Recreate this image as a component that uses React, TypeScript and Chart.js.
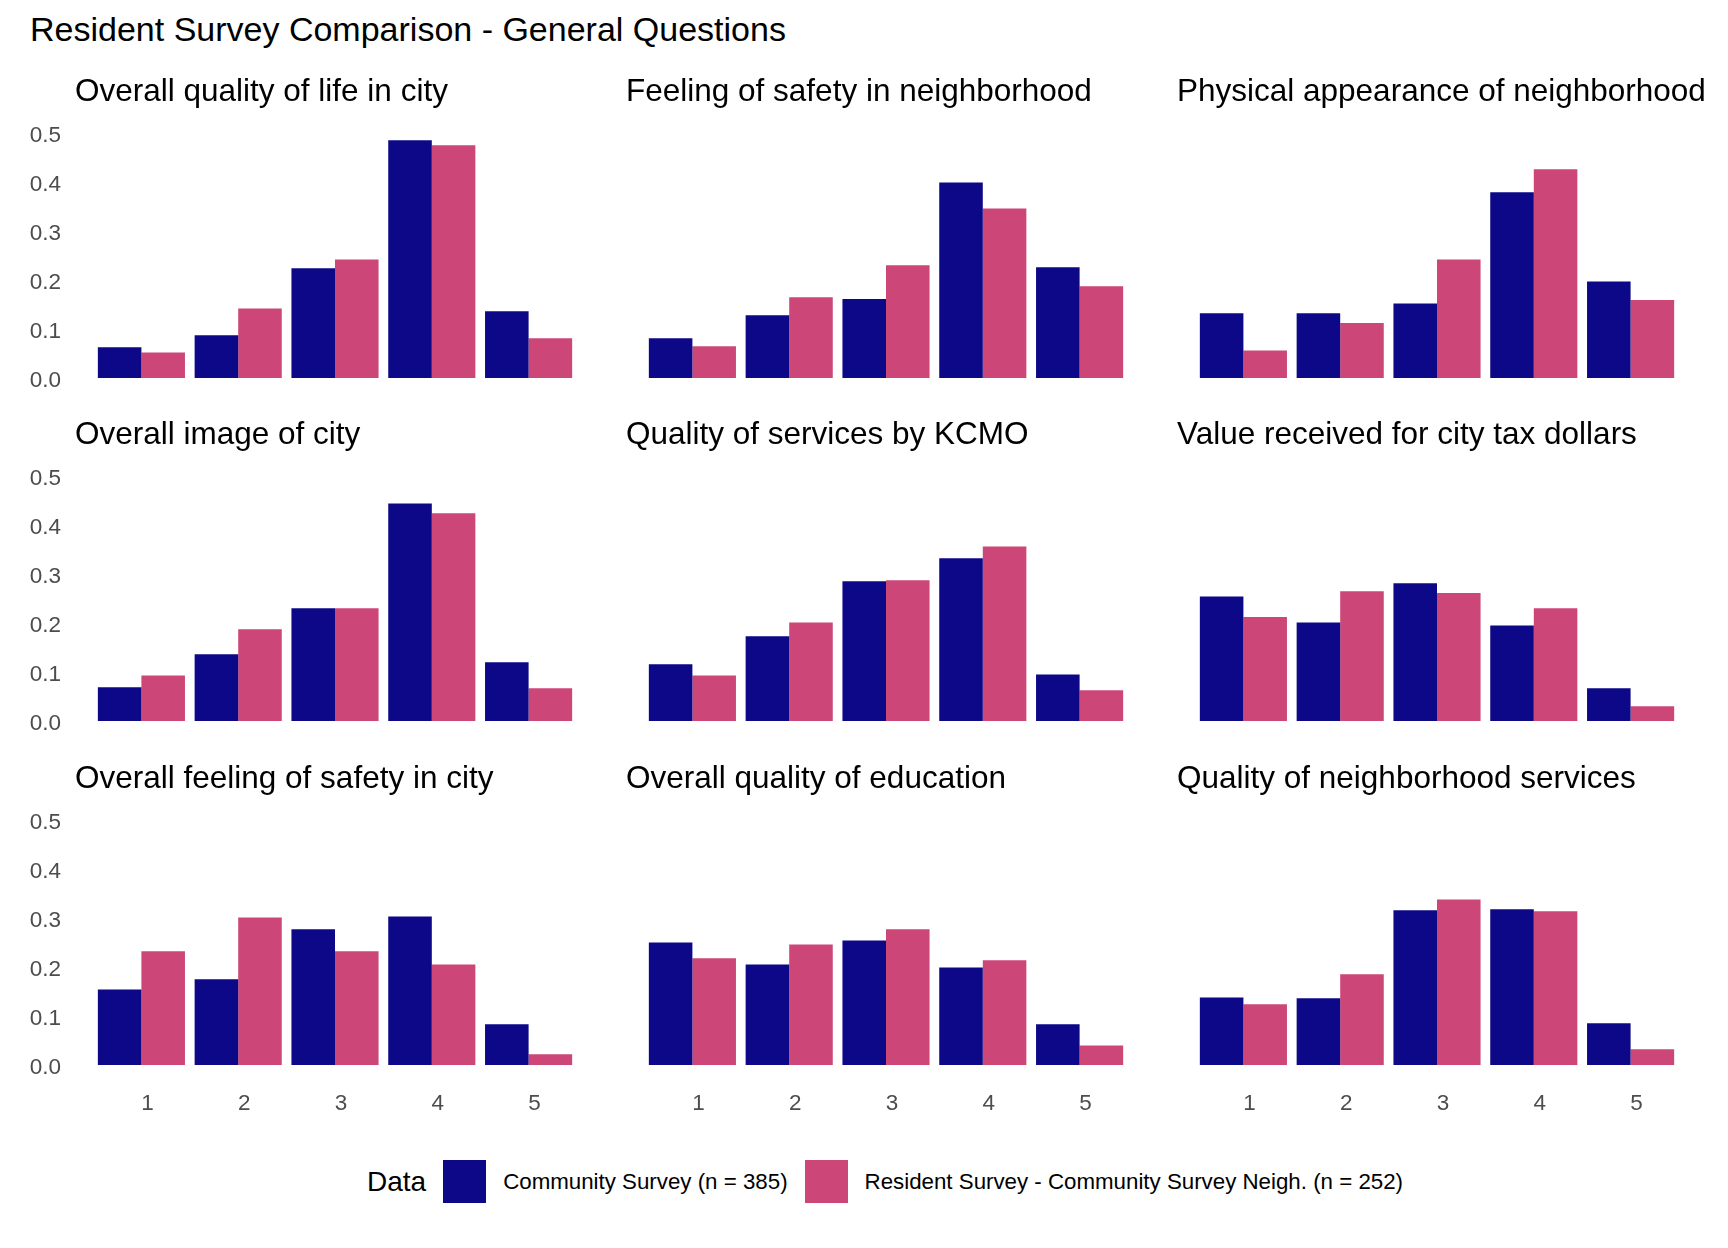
import React, { useEffect, useRef } from "react";
import { Chart, registerables } from "chart.js";

Chart.register(...registerables);

const chartTitle = "Resident Survey Comparison - General Questions";
const panelTitles = [
  "Overall quality of life in city",
  "Feeling of safety in neighborhood",
  "Physical appearance of neighborhood",
  "Overall image of city",
  "Quality of services by KCMO",
  "Value received for city tax dollars",
  "Overall feeling of safety in city",
  "Overall quality of education",
  "Quality of neighborhood services",
];
const categories = ["1", "2", "3", "4", "5"];
const yTicks = [0, 0.1, 0.2, 0.3, 0.4, 0.5];
const legendTitle = "Data";
const seriesNames = [
  "Community Survey (n = 385)",
  "Resident Survey - Community Survey Neigh. (n = 252)",
];
const seriesColors = ["#0D0887", "#CC4778"];

const communitySurvey = [
  [0.063, 0.087, 0.224, 0.485, 0.136],
  [0.081, 0.128, 0.161, 0.399, 0.226],
  [0.132, 0.132, 0.152, 0.379, 0.197],
  [0.069, 0.136, 0.23, 0.444, 0.12],
  [0.116, 0.173, 0.285, 0.332, 0.095],
  [0.254, 0.201, 0.281, 0.195, 0.067],
  [0.154, 0.175, 0.277, 0.303, 0.083],
  [0.25, 0.205, 0.254, 0.199, 0.083],
  [0.138, 0.136, 0.316, 0.318, 0.085],
];
const residentSurvey = [
  [0.052, 0.142, 0.242, 0.475, 0.081],
  [0.065, 0.165, 0.23, 0.346, 0.187],
  [0.056, 0.112, 0.242, 0.426, 0.159],
  [0.093, 0.187, 0.23, 0.424, 0.067],
  [0.093, 0.201, 0.287, 0.356, 0.063],
  [0.212, 0.265, 0.261, 0.23, 0.03],
  [0.232, 0.301, 0.232, 0.205, 0.022],
  [0.218, 0.246, 0.277, 0.214, 0.04],
  [0.124, 0.185, 0.338, 0.314, 0.032],
];

const FONT = '"Liberation Sans", Arial, Helvetica, sans-serif';
const TICK_COLOR = "#4D4D4D";
const COL_LEFT = [93, 644, 1195];
const ROW_BASE = [378, 721, 1065];
const PLOT_W = 484;
const PLOT_H = 250;
const AXIS_W = 80;
const RIGHT_PAD = 60;
const TOP_PAD = 60;
const X_AXIS_H = 60;
const Y_MAX = PLOT_H / 490;

function Panel({ index }: { index: number }) {
  const ref = useRef<HTMLCanvasElement | null>(null);
  const row = Math.floor(index / 3);
  const col = index % 3;
  const w = AXIS_W + PLOT_W + RIGHT_PAD;
  const h = TOP_PAD + PLOT_H + X_AXIS_H;

  useEffect(() => {
    if (!ref.current) return;
    const titlePlugin = {
      id: "panelTitle",
      afterDraw(chart: any) {
        const ctx = chart.ctx;
        const a = chart.chartArea;
        ctx.save();
        ctx.font = `31.5px ${FONT}`;
        ctx.fillStyle = "#000000";
        ctx.textBaseline = "middle";
        ctx.textAlign = "left";
        ctx.fillText(panelTitles[index], a.left - 18, a.top - 36);
        ctx.restore();
      },
    };
    const chart = new Chart(ref.current, {
      type: "bar",
      data: {
        labels: categories,
        datasets: [
          {
            label: seriesNames[0],
            data: communitySurvey[index],
            backgroundColor: seriesColors[0],
            categoryPercentage: 0.9,
            barPercentage: 1,
          },
          {
            label: seriesNames[1],
            data: residentSurvey[index],
            backgroundColor: seriesColors[1],
            categoryPercentage: 0.9,
            barPercentage: 1,
          },
        ],
      },
      options: {
        animation: false,
        responsive: false,
        maintainAspectRatio: false,
        layout: { padding: { top: TOP_PAD, left: 0, right: RIGHT_PAD, bottom: 0 } },
        plugins: {
          legend: { display: false },
          title: { display: false },
          tooltip: { enabled: false },
        },
        scales: {
          x: {
            grid: { display: false, drawTicks: false },
            border: { display: false },
            ticks: {
              display: row === 2,
              color: TICK_COLOR,
              font: { family: FONT, size: 22.5 },
              padding: 25,
              labelOffset: 6,
            },
            afterFit: (s: any) => {
              s.height = X_AXIS_H;
            },
          },
          y: {
            min: 0,
            max: Y_MAX,
            grid: { display: false, drawTicks: false },
            border: { display: false },
            ticks: {
              display: col === 0,
              color: TICK_COLOR,
              font: { family: FONT, size: 22.5 },
              padding: 32,
              labelOffset: 3,
              callback: (v: any) => Number(v).toFixed(1),
            },
            afterBuildTicks: (s: any) => {
              s.ticks = yTicks.map((v) => ({ value: v }));
            },
            afterFit: (s: any) => {
              s.width = AXIS_W;
            },
          },
        },
      } as any,
      plugins: [titlePlugin],
    });
    return () => chart.destroy();
  }, [index]);

  return (
    <canvas
      ref={ref}
      width={w}
      height={h}
      style={{
        position: "absolute",
        left: COL_LEFT[col] - AXIS_W,
        top: ROW_BASE[row] - PLOT_H - TOP_PAD,
        width: w,
        height: h,
      }}
    />
  );
}

export default function App() {
  return (
    <div
      style={{
        position: "absolute",
        left: 0,
        top: 0,
        width: 1728,
        height: 1248,
        background: "#ffffff",
        fontFamily: FONT,
        overflow: "hidden",
      }}
    >
      <div
        style={{
          position: "absolute",
          left: 30,
          top: 12,
          fontSize: 34,
          lineHeight: "34px",
          color: "#000",
          whiteSpace: "nowrap",
        }}
      >
        {chartTitle}
      </div>
      {panelTitles.map((_, i) => (
        <Panel key={i} index={i} />
      ))}
      <div
        style={{
          position: "absolute",
          left: 367,
          top: 1160,
          height: 43,
          display: "flex",
          alignItems: "center",
          whiteSpace: "nowrap",
          color: "#000",
        }}
      >
        <span style={{ fontSize: 28, marginRight: 17 }}>{legendTitle}</span>
        {seriesNames.map((name, i) => (
          <React.Fragment key={i}>
            <span
              style={{
                display: "inline-block",
                width: 43,
                height: 43,
                background: seriesColors[i],
                marginRight: 17,
              }}
            />
            <span style={{ fontSize: 22.3, marginRight: i === 0 ? 17 : 0 }}>{name}</span>
          </React.Fragment>
        ))}
      </div>
    </div>
  );
}
